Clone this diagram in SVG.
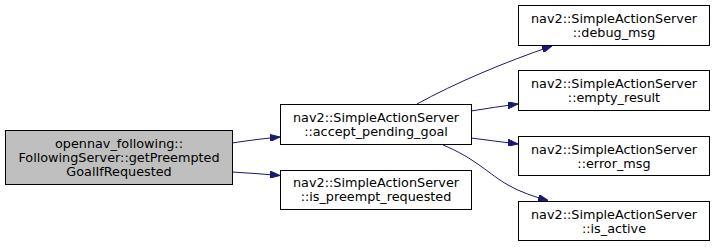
<svg xmlns="http://www.w3.org/2000/svg" width="715" height="248" viewBox="0 0 715 248">
<defs>
<style>
.box{fill:#ffffff;stroke:#000000;stroke-width:1}
.root{fill:#bfbfbf;stroke:#000000;stroke-width:1}
text{font-family:"DejaVu Sans","Liberation Sans",sans-serif;font-size:12.8px;fill:#000000;text-anchor:middle}
.edge{fill:none;stroke:#191970;stroke-width:1}
</style>
<marker id="arr" viewBox="0 0 10 7" refX="10" refY="3.5" markerWidth="10" markerHeight="7" markerUnits="userSpaceOnUse" orient="auto">
<path d="M0,0 L10,3.5 L0,7 Z" fill="#191970" stroke="#191970"/>
</marker>
</defs>
<g id="connectors">
<path class="edge" d="M232,143 C248,140.5 264,138.5 280,137" marker-end="url(#arr)"/>
<path class="edge" d="M232,172 C248,173 264,174 280,175.5" marker-end="url(#arr)"/>
<path class="edge" d="M417,104 C455,83 505,62 552,46" marker-end="url(#arr)"/>
<path class="edge" d="M471,111 C487,108.5 502,106 518,104" marker-end="url(#arr)"/>
<path class="edge" d="M471,138 C487,140 502,142 518,144" marker-end="url(#arr)"/>
<path class="edge" d="M443,145 C475,158 490,175 508,185 C520,192 535,197 548,200.5" marker-end="url(#arr)"/>
</g>
<g id="node1">
<rect class="root" x="5.5" y="130.5" width="227" height="54"/>
<text x="119" y="148">opennav_following::</text>
<text x="119" y="162">FollowingServer::getPreempted</text>
<text x="119" y="176">GoalIfRequested</text>
</g>
<g id="node2">
<rect class="box" x="280.5" y="104.5" width="191" height="40"/>
<text x="376" y="121.5">nav2::SimpleActionServer</text>
<text x="376" y="135.5">::accept_pending_goal</text>
</g>
<g id="node3">
<rect class="box" x="280.5" y="170.5" width="191" height="39"/>
<text x="376" y="187">nav2::SimpleActionServer</text>
<text x="376" y="201">::is_preempt_requested</text>
</g>
<g id="node4">
<rect class="box" x="518.5" y="5.5" width="191" height="40"/>
<text x="614" y="23">nav2::SimpleActionServer</text>
<text x="614" y="37">::debug_msg</text>
</g>
<g id="node5">
<rect class="box" x="518.5" y="70.5" width="191" height="40"/>
<text x="614" y="88">nav2::SimpleActionServer</text>
<text x="614" y="102">::empty_result</text>
</g>
<g id="node6">
<rect class="box" x="518.5" y="136.5" width="191" height="39"/>
<text x="614" y="153.5">nav2::SimpleActionServer</text>
<text x="614" y="167.5">::error_msg</text>
</g>
<g id="node7">
<rect class="box" x="518.5" y="201.5" width="191" height="39"/>
<text x="614" y="218.5">nav2::SimpleActionServer</text>
<text x="614" y="232.5">::is_active</text>
</g>
</svg>
